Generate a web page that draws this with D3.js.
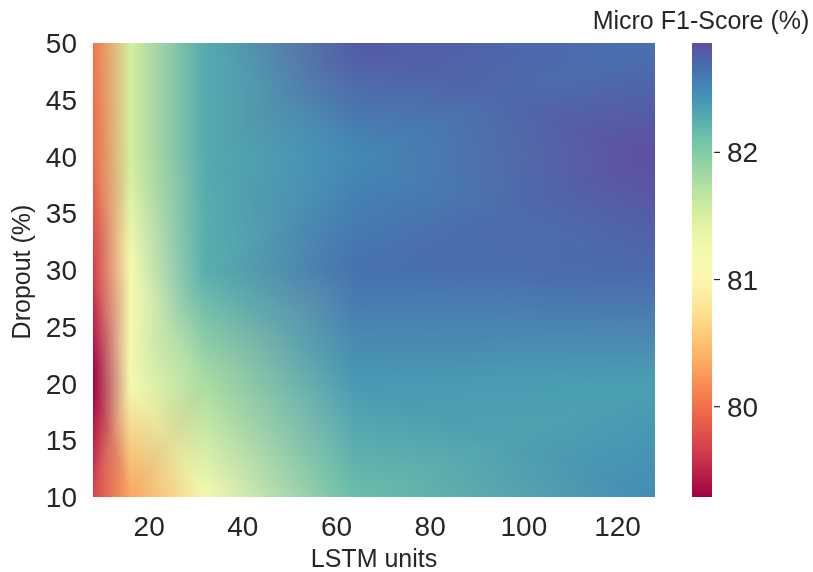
<!DOCTYPE html>
<html>
<head>
<meta charset="utf-8">
<script src="https://cdn.jsdelivr.net/npm/d3@7"></script>
<style>
    body { margin: 0; background: #fff; }
    #chart { position: relative; width: 813px; height: 572px; }
    #chart canvas, #chart svg { position: absolute; left: 0; top: 0; }
    text { font-family: "Liberation Sans", Arial, sans-serif; fill: #262626; }
</style>
</head>
<body>
<div id="chart"></div>
<script>
// grid of the hyper-parameter search
const lstmUnits = [8, 16, 32, 64, 128];
const dropouts = [10, 20, 30, 40, 50];

// micro F1 (%) , one row per dropout value, columns follow lstmUnits
const f1Scores = [
    [79.71, 80.33, 81.22, 82.14, 82.47], // dropout 10
    [79.29, 81.22, 81.79, 82.39, 82.36], // dropout 20
    [79.67, 81.20, 82.25, 82.65, 82.70], // dropout 30
    [79.96, 81.54, 82.28, 82.50, 82.86], // dropout 40
    [80.03, 81.54, 82.29, 82.79, 82.65]  // dropout 50
];

const xTicks = [20, 40, 60, 80, 100, 120];
const yTicks = [10, 15, 20, 25, 30, 35, 40, 45, 50];
const cbarTicks = [80, 81, 82];

const width = 813, height = 572;
const plot = { left: 93, right: 655, top: 43, bottom: 497 };
const cbar = { left: 692, right: 712 };

const x = d3.scaleLinear().domain(d3.extent(lstmUnits)).range([plot.left, plot.right]);
const y = d3.scaleLinear().domain(d3.extent(dropouts)).range([plot.bottom, plot.top]);
const color = d3.scaleSequential(d3.interpolateSpectral).domain(d3.extent(f1Scores.flat()));

const container = d3.select("#chart");

// ---- heatmap, gouraud shaded (each cell split in 4 triangles round its centre)
const canvas = container.append("canvas")
    .attr("width", width)
    .attr("height", height);
const ctx = canvas.node().getContext("2d");

const nodeRgb = f1Scores.map(row => row.map(v => d3.rgb(color(v))));

const img = ctx.createImageData(plot.right - plot.left, plot.bottom - plot.top);

function cellIndex(arr, v) {
    for (let i = 0; i < arr.length - 2; i++) {
        if (v <= arr[i + 1]) return i;
    }
    return arr.length - 2;
}

function mix(cols, ws) {
    let r = 0, g = 0, b = 0;
    for (let k = 0; k < cols.length; k++) {
        r += cols[k].r * ws[k];
        g += cols[k].g * ws[k];
        b += cols[k].b * ws[k];
    }
    return [r, g, b];
}

for (let py = 0; py < img.height; py++) {
    const sy = plot.top + py + 0.5;
    const j = cellIndex(dropouts, y.invert(sy));
    const Y0 = y(dropouts[j]), Y1 = y(dropouts[j + 1]);
    const v = (sy - Y0) / (Y1 - Y0);
    for (let px = 0; px < img.width; px++) {
        const sx = plot.left + px + 0.5;
        const i = cellIndex(lstmUnits, x.invert(sx));
        const X0 = x(lstmUnits[i]), X1 = x(lstmUnits[i + 1]);
        const u = (sx - X0) / (X1 - X0);

        const A = nodeRgb[j][i], B = nodeRgb[j][i + 1];
        const C = nodeRgb[j + 1][i + 1], D = nodeRgb[j + 1][i];
        const M = { r: (A.r + B.r + C.r + D.r) / 4, g: (A.g + B.g + C.g + D.g) / 4, b: (A.b + B.b + C.b + D.b) / 4 };

        let c;
        if (v <= u && v <= 1 - u) {
            c = mix([A, B, M], [1 - u - v, u - v, 2 * v]);
        } else if (u >= v && u >= 1 - v) {
            const d = 1 - u;
            c = mix([B, C, M], [1 - v - d, v - d, 2 * d]);
        } else if (v >= u && v >= 1 - u) {
            const d = 1 - v;
            c = mix([D, C, M], [1 - u - d, u - d, 2 * d]);
        } else {
            const d = u;
            c = mix([A, D, M], [1 - v - d, v - d, 2 * d]);
        }
        const k = (py * img.width + px) * 4;
        img.data[k] = c[0];
        img.data[k + 1] = c[1];
        img.data[k + 2] = c[2];
        img.data[k + 3] = 255;
    }
}
ctx.putImageData(img, plot.left, plot.top);

// ---- axes and colour bar
const svg = container.append("svg")
    .attr("width", width)
    .attr("height", height);

svg.append("g")
    .selectAll("text")
    .data(xTicks)
    .join("text")
    .attr("x", d => x(d))
    .attr("y", 536)
    .attr("text-anchor", "middle")
    .attr("font-size", 28)
    .text(d => d);

svg.append("g")
    .selectAll("text")
    .data(yTicks)
    .join("text")
    .attr("x", 77)
    .attr("y", d => y(d))
    .attr("dy", "0.36em")
    .attr("text-anchor", "end")
    .attr("font-size", 28)
    .text(d => d);

svg.append("text")
    .attr("x", (plot.left + plot.right) / 2)
    .attr("y", 567)
    .attr("text-anchor", "middle")
    .attr("font-size", 25)
    .text("LSTM units");

svg.append("text")
    .attr("transform", "translate(30," + ((plot.top + plot.bottom) / 2 + 2) + ") rotate(-90)")
    .attr("text-anchor", "middle")
    .attr("font-size", 25)
    .text("Dropout (%)");

// colour bar
const cy = d3.scaleLinear().domain(color.domain()).range([plot.bottom, plot.top]);

const grad = svg.append("defs")
    .append("linearGradient")
    .attr("id", "cbar-grad")
    .attr("x1", 0).attr("y1", 1)
    .attr("x2", 0).attr("y2", 0);

grad.selectAll("stop")
    .data(d3.range(0, 1.0001, 0.02))
    .join("stop")
    .attr("offset", d => d)
    .attr("stop-color", d => d3.interpolateSpectral(d));

svg.append("rect")
    .attr("x", cbar.left)
    .attr("y", plot.top)
    .attr("width", cbar.right - cbar.left)
    .attr("height", plot.bottom - plot.top)
    .attr("fill", "url(#cbar-grad)");

const cbarAxis = svg.append("g");

cbarAxis.selectAll("line")
    .data(cbarTicks)
    .join("line")
    .attr("x1", cbar.right + 2)
    .attr("x2", cbar.right + 8)
    .attr("y1", d => cy(d))
    .attr("y2", d => cy(d))
    .attr("stroke", "#262626")
    .attr("stroke-width", 1.2);

cbarAxis.selectAll("text")
    .data(cbarTicks)
    .join("text")
    .attr("x", 727)
    .attr("y", d => cy(d))
    .attr("dy", "0.36em")
    .attr("font-size", 28)
    .text(d => d);

svg.append("text")
    .attr("x", 701)
    .attr("y", 29)
    .attr("text-anchor", "middle")
    .attr("font-size", 25)
    .text("Micro F1-Score (%)");
</script>
</body>
</html>
